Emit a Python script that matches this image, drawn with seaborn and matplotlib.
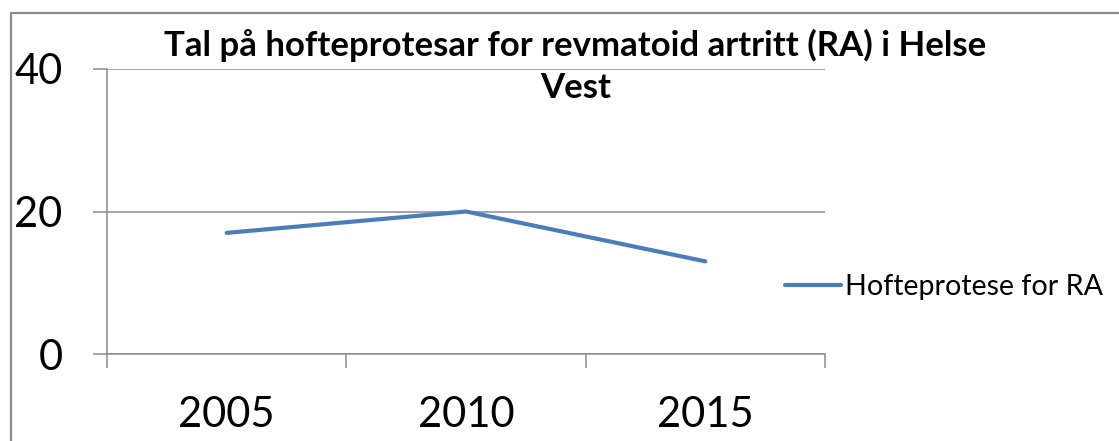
import matplotlib
matplotlib.use('Agg')
import matplotlib.pyplot as plt
import seaborn as sns
import pandas as pd
from matplotlib.patches import Rectangle

# ---- data ----
years = ['2005', '2010', '2015']
values = [17, 20, 13]
series_name = 'Hofteprotese for RA'
title_line1 = 'Tal på hofteprotesar for revmatoid artritt (RA) i Helse'
title_line2 = 'Vest'
yticks = [0, 20, 40]

sns.set_theme(style='white')
plt.rcParams['font.family'] = ['Lato', 'DejaVu Sans']

W, H = 1119, 441
fig = plt.figure(figsize=(W / 100, H / 100), dpi=100)
fig.patch.set_facecolor('white')

# outer chart border (left and top visible, rest cropped)
fig.add_artist(Rectangle((10.5 / W, -0.5), 2.0, (1 - 12.5 / H) + 0.5,
                         transform=fig.transFigure, fill=False,
                         edgecolor='#8c8c8c', lw=1.6, clip_on=False))

ax = fig.add_axes([107 / W, 1 - 354 / H, (825 - 107) / W, (354 - 69) / H])

df = pd.DataFrame({'pos': list(range(len(years))), 'Value': values,
                   'Series': [series_name] * len(years)})
sns.lineplot(data=df, x='pos', y='Value', hue='Series', palette=['#4A7EBB'],
             lw=3.0, ax=ax, sort=False, zorder=3,
             solid_capstyle='round', solid_joinstyle='round')

ax.set_xlim(-0.5, len(years) - 0.5)
ax.set_ylim(0, 40)
ax.set_xlabel('')
ax.set_ylabel('')

gray = '#8c8c8c'
ax.set_xticks([i - 0.5 for i in range(len(years) + 1)])
ax.set_xticklabels([])
ax.set_xticks(range(len(years)), minor=True)
ax.set_xticklabels(years, minor=True)
ax.tick_params(axis='x', which='major', length=10, width=1.1, color=gray,
               direction='out', bottom=True)
ax.tick_params(axis='x', which='minor', length=0, pad=30, labelsize=30,
               labelcolor='black', bottom=True)

ax.set_yticks(yticks)
ax.set_yticklabels([str(v) for v in yticks])
ax.tick_params(axis='y', which='major', length=10, width=1.1, color=gray,
               direction='out', left=True, pad=22, labelsize=30,
               labelcolor='black')

ax.yaxis.grid(True, color=gray, lw=1.1)
ax.xaxis.grid(False)
ax.set_axisbelow(True)
for s in ['top', 'right']:
    ax.spines[s].set_visible(False)
for s in ['left', 'bottom']:
    ax.spines[s].set_color(gray)
    ax.spines[s].set_linewidth(1.1)

leg = ax.legend(loc='center left', bbox_to_anchor=(785 / W, 1 - 287 / H),
                bbox_transform=fig.transFigure, frameon=False, fontsize=20.6,
                handlelength=1.95, handletextpad=0.15, borderpad=0,
                borderaxespad=0)
for t in leg.get_texts():
    t.set_color('black')

fig.text(575 / W, 1 - 45 / H, title_line1, ha='center', va='center',
         fontsize=25, fontweight='bold', color='black')
fig.text(576 / W, 1 - 88 / H, title_line2, ha='center', va='center',
         fontsize=25, fontweight='bold', color='black')

fig.savefig('out.png', dpi=100)
